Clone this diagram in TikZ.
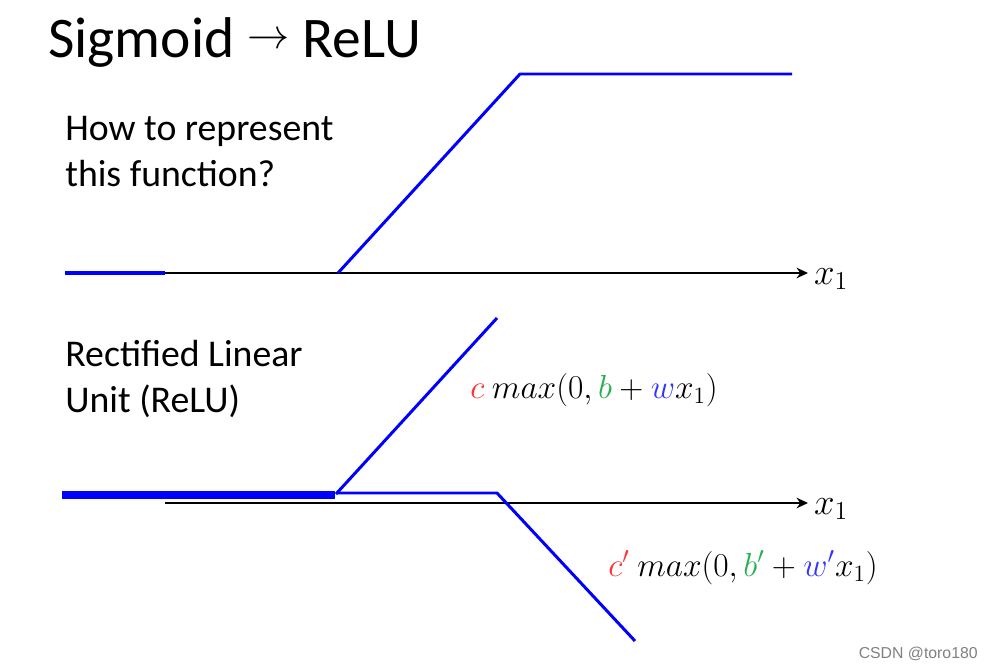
\RequirePackage{fix-cm}
\documentclass[tikz,border=0pt]{standalone}
\usepackage{fontspec}
\setmainfont{Carlito}
\newfontfamily\markfont{Liberation Sans}
\usetikzlibrary{arrows.meta}
\definecolor{cred}{RGB}{255,51,51}
\definecolor{cgreen}{RGB}{40,176,80}
\definecolor{cblue}{RGB}{51,51,255}
\definecolor{fblue}{RGB}{0,0,255}
\begin{document}
\begin{tikzpicture}[x=0.02cm, y=-0.02cm, line join=round, >={Stealth[length=6.5pt,width=6pt]}]
	\useasboundingbox (0,0) rectangle (994,669);
	% title and left texts
	\node[anchor=base west, inner sep=0, font=\fontsize{32.7}{38}\selectfont] (title) at (48,58) {Sigmoid \raisebox{5.4pt}{\fontsize{24}{28}\selectfont$\rightarrow$} ReLU};
	\node[anchor=base west, inner sep=0, font=\fontsize{21.5}{25}\selectfont] (ask1) at (65,140) {How to represent};
	\node[anchor=base west, inner sep=0, font=\fontsize{21.5}{25}\selectfont] (ask2) at (65,186) {this function?};
	\node[anchor=base west, inner sep=0, font=\fontsize{21.5}{25}\selectfont] (relu1) at (65,366) {Rectified Linear};
	\node[anchor=base west, inner sep=0, font=\fontsize{21.5}{25}\selectfont] (relu2) at (65,412) {Unit (ReLU)};
	% upper plot
	\draw[fblue, line width=2.2pt] (65,273)--(165,273);
	\draw[->, line width=1.2pt] (165,273)--(808,273);
	\draw[fblue, line width=1.7pt] (338,273)--(520,74)--(792,74);
	\node[anchor=west, font=\fontsize{21}{25}\selectfont] (xup) at (808,279) {$x_1$};
	% lower plot
	\draw[fblue, line width=4.6pt] (62,495)--(335,495);
	\draw[->, line width=1.2pt] (165,503)--(808,503);
	\draw[fblue, line width=1.7pt] (336,494)--(497,318);
	\draw[fblue, line width=1.7pt] (336,493)--(497,493)--(635,641);
	\node[anchor=west, font=\fontsize{21}{25}\selectfont] (xdown) at (808,509) {$x_1$};
	% formulas
	\node[anchor=base west, inner sep=0, font=\fontsize{19}{22}\selectfont] (upper) at (470,398) {$\textcolor{cred}{c}\ max(0,\textcolor{cgreen}{b}+\textcolor{cblue}{w}x_1)$};
	\node[anchor=base west, inner sep=0, font=\fontsize{19}{22}\selectfont] (lower) at (608,576) {$\textcolor{cred}{c'}\ max(0,\textcolor{cgreen}{b'}+\textcolor{cblue}{w'}x_1)$};
	\node[anchor=base east, inner sep=0, text=gray, font=\markfont\fontsize{9}{10}\selectfont] (mark) at (978,658) {CSDN @toro180};
\end{tikzpicture}
\end{document}
